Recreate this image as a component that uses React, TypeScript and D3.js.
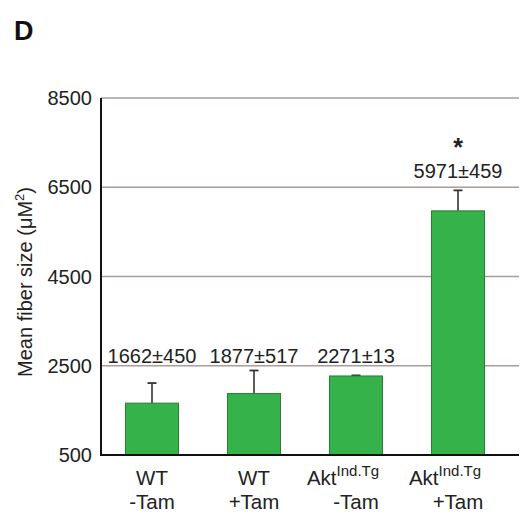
import React from "react";
import * as d3 from "d3";

const groups = ["WT|-Tam", "WT|+Tam", "Akt|-Tam", "Akt|+Tam"];
const line1 = ["WT", "WT", "Akt", "Akt"];
const superscripts = ["", "", "Ind.Tg", "Ind.Tg"];
const line2 = ["-Tam", "+Tam", "-Tam", "+Tam"];
const means = [1662, 1877, 2271, 5971];
const errors = [450, 517, 13, 459];
const significant = [false, false, false, true];
const yTicks = [500, 2500, 4500, 6500, 8500];

const width = 523;
const height = 517;
const margin = { top: 98, right: 4, bottom: 62, left: 101 };
const font = "'Liberation Sans', Arial, Helvetica, sans-serif";

export default function App() {
  const x = d3
    .scaleBand()
    .domain(groups)
    .range([margin.left, margin.left + 408])
    .paddingInner(0.48)
    .paddingOuter(0.24);

  const y = d3
    .scaleLinear()
    .domain([500, 8500])
    .range([height - margin.bottom, margin.top]);

  const bw = x.bandwidth();
  const right = width - margin.right;

  return (
    <svg
      width={width}
      height={height}
      style={{ position: "absolute", left: 0, top: 0, background: "#fff" }}
      fontFamily={font}
    >
      <text x={14} y={40} fontSize={27} fontWeight="bold" fill="#111">
        D
      </text>

      {/* gridlines */}
      {yTicks.slice(1).map(t => (
        <line
          key={t}
          x1={margin.left}
          x2={right}
          y1={y(t)}
          y2={y(t)}
          stroke="#a89c9c"
          strokeWidth={1.4}
        />
      ))}

      {/* tick labels */}
      {yTicks.map(t => (
        <text
          key={t}
          x={92}
          y={y(t) + 7}
          textAnchor="end"
          fontSize={20}
          fill="#222"
        >
          {t}
        </text>
      ))}

      <text
        transform={`translate(32, 282) rotate(-90)`}
        textAnchor="middle"
        fontSize={20}
        fill="#222"
      >
        Mean fiber size (μM
        <tspan dy={-8} fontSize={13}>
          2
        </tspan>
        <tspan dy={8}>)</tspan>
      </text>

      {/* bars */}
      {groups.map((g, i) => {
        const x0 = x(g) as number;
        const cx = x0 + bw / 2;
        const top = y(means[i]);
        const errTop = y(means[i] + errors[i]);
        return (
          <g key={g}>
            <line
              x1={cx}
              x2={cx}
              y1={top}
              y2={errTop}
              stroke="#333"
              strokeWidth={1.6}
            />
            <line
              x1={cx - 4.5}
              x2={cx + 4.5}
              y1={errTop}
              y2={errTop}
              stroke="#333"
              strokeWidth={1.8}
            />
            <rect
              x={x0}
              y={top}
              width={bw}
              height={y(500) - top}
              fill="#36b24a"
              stroke="#2b7a36"
              strokeWidth={1}
            />
            <text
              x={cx}
              y={i === 3 ? 178 : 363}
              textAnchor="middle"
              fontSize={20}
              fill="#222"
            >
              {means[i]}±{errors[i]}
            </text>
            {significant[i] && (
              <text
                x={cx}
                y={156}
                textAnchor="middle"
                fontSize={25}
                fontWeight="bold"
                fill="#222"
              >
                *
              </text>
            )}
            <text
              x={cx - (superscripts[i] ? 13 : 0)}
              y={485}
              textAnchor="middle"
              fontSize={20.5}
              fill="#222"
            >
              {line1[i]}
              {superscripts[i] && (
                <tspan dy={-9} fontSize={15}>
                  {superscripts[i]}
                </tspan>
              )}
            </text>
            <text
              x={cx}
              y={509}
              textAnchor="middle"
              fontSize={20.5}
              fill="#222"
            >
              {line2[i]}
            </text>
          </g>
        );
      })}

      {/* axes */}
      <line
        x1={margin.left}
        x2={margin.left}
        y1={margin.top}
        y2={y(500)}
        stroke="#111"
        strokeWidth={2}
      />
      <line
        x1={margin.left - 1}
        x2={right}
        y1={y(500)}
        y2={y(500)}
        stroke="#111"
        strokeWidth={2}
      />
    </svg>
  );
}
